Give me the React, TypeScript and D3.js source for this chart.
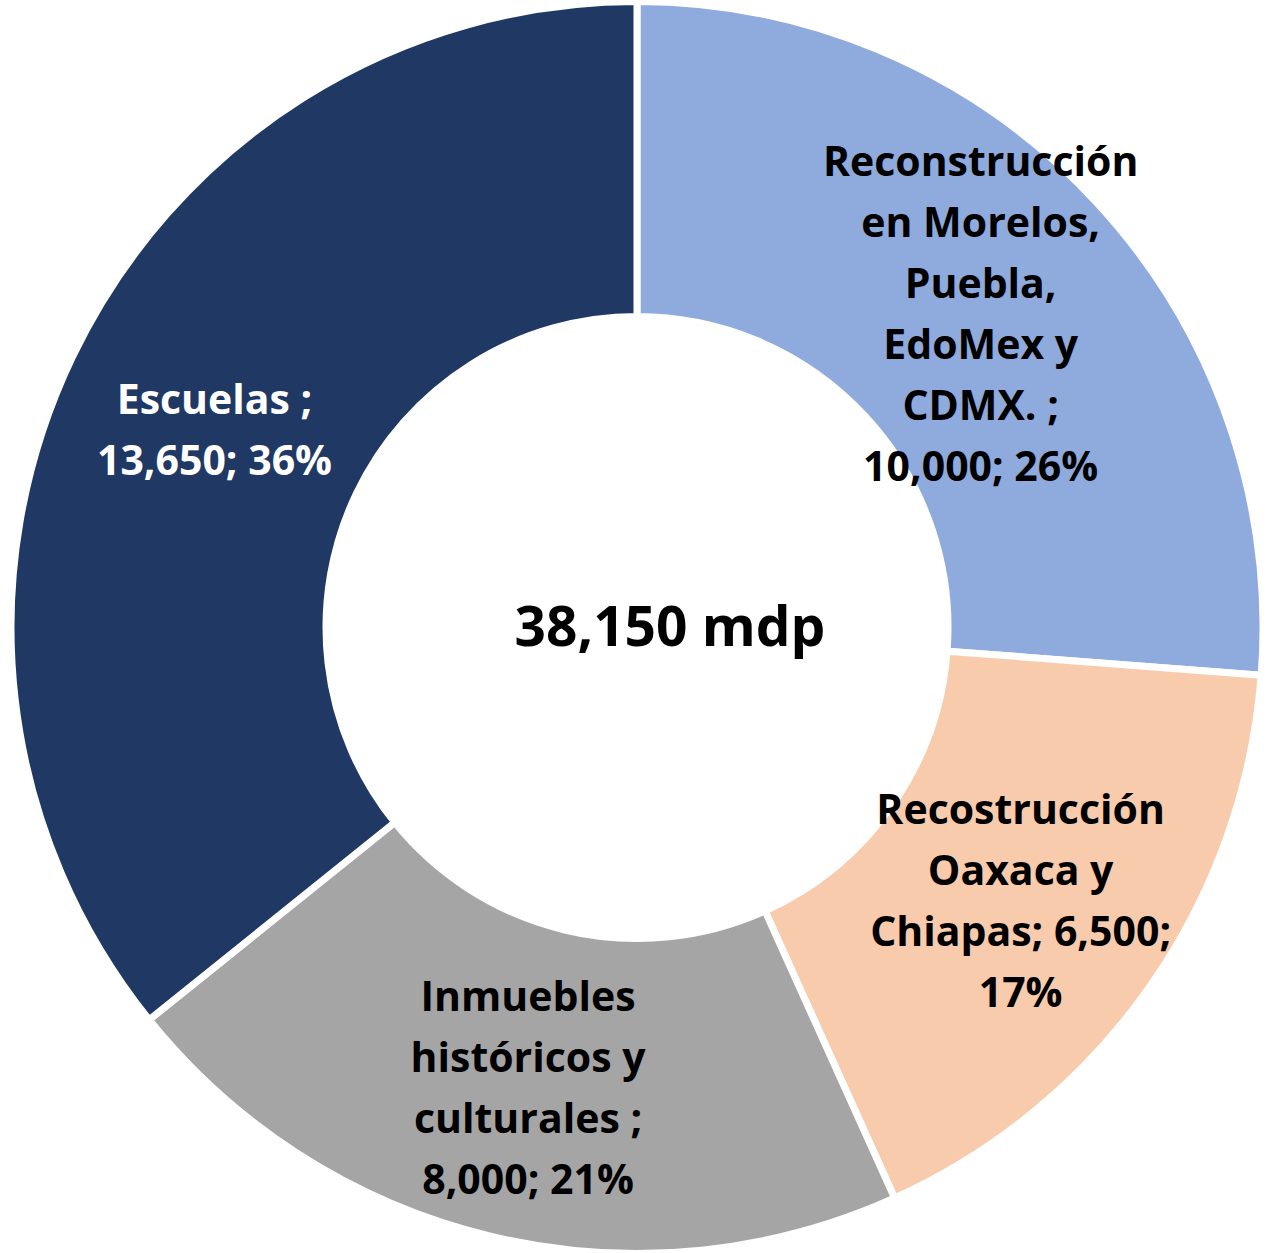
import React from "react";
import * as d3 from "d3";

const categories = [
  "Reconstrucción en Morelos, Puebla, EdoMex y CDMX.",
  "Recostrucción Oaxaca y Chiapas",
  "Inmuebles históricos y culturales",
  "Escuelas",
];
const values = [10000, 6500, 8000, 13650];
const labelLines = [
  ["Reconstrucción", "en Morelos,", "Puebla,", "EdoMex y", "CDMX. ;"],
  ["Recostrucción", "Oaxaca y", "Chiapas; {v};"],
  ["Inmuebles", "históricos y", "culturales ;"],
  ["Escuelas ;"],
];
const colors = ["#8FAADC", "#F8CBAD", "#A5A5A5", "#203864"];
const textColors = ["#000000", "#000000", "#000000", "#FFFFFF"];
const centerLabel = "38,150 mdp";

const W = 1268;
const H = 1253;
const FONT = "'Open Sans', Lato, sans-serif";

export default function App() {
  const cx = 637;
  const cy = 627.5;
  const outerR = 626;
  const innerR = 311;
  const total = d3.sum(values);
  const fmt = d3.format(",");
  const pie = d3.pie<number>().sort(null).value((d) => d)(values);
  const arc = d3.arc<d3.PieArcDatum<number>>().innerRadius(innerR).outerRadius(outerR);
  const labelArc = d3.arc<d3.PieArcDatum<number>>().innerRadius(314.5).outerRadius(622.5);

  const buildLines = (i: number) => {
    const v = fmt(values[i]);
    const p = Math.round((values[i] / total) * 100) + "%";
    const lines = labelLines[i].map((l) => l.replace("{v}", v));
    const last = lines[lines.length - 1];
    if (last.includes(v)) {
      lines.push(p);
    } else {
      lines.push(`${v}; ${p}`);
    }
    return lines;
  };

  const lineH = 61;
  const fontSize = 41;

  return (
    <svg width={W} height={H} style={{ position: "absolute", left: 0, top: 0 }}>
      <rect width={W} height={H} fill="#ffffff" />
      <g transform={`translate(${cx},${cy})`}>
        {pie.map((d, i) => (
          <path key={categories[i]} d={arc(d) || ""} fill={colors[i]} stroke="#ffffff" strokeWidth={7} />
        ))}
        {pie.map((d, i) => {
          const [x, y] = labelArc.centroid(d);
          const lines = buildLines(i);
          const startY = y + 5 - ((lines.length - 1) * lineH) / 2;
          return (
            <text
              key={"l" + i}
              x={x}
              textAnchor="middle"
              fontFamily={FONT}
              fontWeight="bold"
              fontSize={fontSize}
              fill={textColors[i]}
            >
              {lines.map((ln, j) => (
                <tspan key={j} x={x} y={startY + j * lineH} dy="0.34em">
                  {ln}
                </tspan>
              ))}
            </text>
          );
        })}
        <text
          x={33}
          y={0}
          dy="0.34em"
          textAnchor="middle"
          fontFamily={FONT}
          fontWeight="bold"
          fontSize={55}
          fill="#000000"
        >
          {centerLabel}
        </text>
      </g>
    </svg>
  );
}
